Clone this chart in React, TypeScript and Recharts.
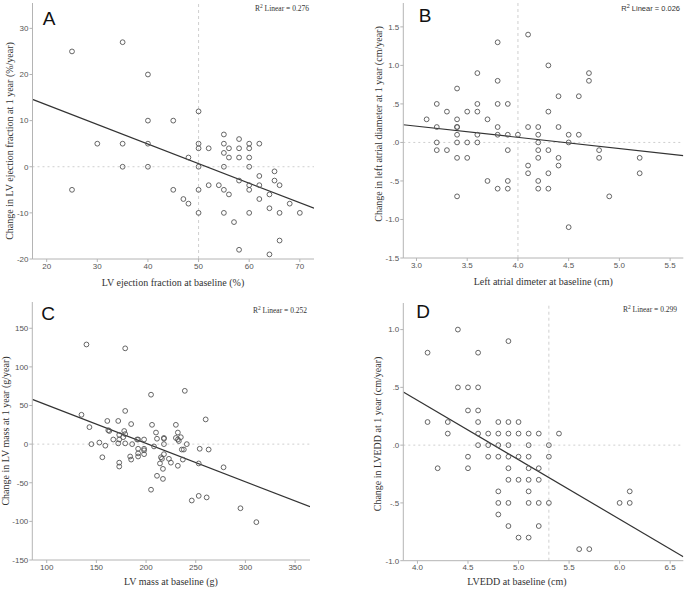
import React from "react";
import {
  ScatterChart,
  Scatter,
  XAxis,
  YAxis,
  ReferenceLine,
} from "recharts";

// A: LV ejection fraction
const efBaseline = [25, 25, 30, 35, 35, 35, 40, 40, 40, 40, 45, 45, 47, 48, 48, 50, 50, 50, 50, 50, 50, 52, 52, 54, 55, 55, 55, 55, 55, 55, 56, 56, 56, 57, 58, 58, 58, 58, 58, 60, 60, 60, 60, 60, 60, 60, 62, 62, 62, 62, 64, 64, 64, 65, 65, 66, 66, 66, 68, 70];
const efChange = [25, -5, 5, 27, 5, 0, 20, 10, 5, 0, 10, -5, -7, 2, -8, 12, 5, 4, 0, -5, -10, 4, -4, -4, 7, 5, 3, 0, -5, -10, 4, 2, -6, -12, 6, 4, 2, -3, -18, 5, 4, 2, 0, -4, -5, -10, 5, -2, -4, -7, -6, -9, -19, -1, -3, -4, -10, -16, -8, -10];
const efFit = [{ x: 17.2, y: 14.6 }, { x: 72.8, y: -9 }];
const efXTicks = [20, 30, 40, 50, 60, 70];
const efYTicks = [-20, -10, 0, 10, 20, 30];

// B: left atrial diameter
const laBaseline = [3.1, 3.2, 3.2, 3.2, 3.2, 3.3, 3.3, 3.4, 3.4, 3.4, 3.4, 3.4, 3.4, 3.4, 3.4, 3.5, 3.5, 3.5, 3.6, 3.6, 3.6, 3.6, 3.6, 3.7, 3.7, 3.8, 3.8, 3.8, 3.8, 3.8, 3.8, 3.9, 3.9, 3.9, 3.9, 3.9, 4.0, 4.1, 4.1, 4.1, 4.1, 4.2, 4.2, 4.2, 4.2, 4.2, 4.2, 4.2, 4.3, 4.3, 4.3, 4.3, 4.3, 4.4, 4.4, 4.4, 4.4, 4.5, 4.5, 4.5, 4.6, 4.6, 4.7, 4.7, 4.8, 4.8, 4.9, 5.2, 5.2];
const laChange = [0.3, 0.5, 0.2, 0.0, -0.1, 0.4, -0.1, 0.7, 0.3, 0.2, 0.1, 0.0, -0.2, -0.7, 0.2, 0.4, 0.0, -0.2, 0.9, 0.5, 0.4, 0.1, 0.0, 0.3, -0.5, 1.3, 0.8, 0.5, 0.2, 0.1, -0.6, 0.5, 0.1, -0.1, -0.5, -0.6, 0.1, 1.4, 0.2, -0.3, -0.4, 0.2, 0.1, 0.0, -0.1, -0.2, -0.5, -0.6, 1.0, 0.4, -0.1, -0.4, -0.6, 0.6, 0.2, -0.2, -0.3, 0.1, 0.0, -1.1, 0.6, 0.1, 0.9, 0.8, -0.1, -0.2, -0.7, -0.2, -0.4];
const laFit = [{ x: 2.87, y: 0.23 }, { x: 5.63, y: -0.17 }];
const laXTicks = [3.0, 3.5, 4.0, 4.5, 5.0, 5.5];
const laYTicks = [-1.5, -1.0, -0.5, 0, 0.5, 1.0, 1.5];

// C: LV mass
const massBaseline = [140, 179, 135, 143, 145, 153, 156, 159, 161, 162, 163, 167, 172, 173, 173, 172, 173, 173, 177, 178, 179, 179, 179, 185, 184, 185, 186, 191, 192, 192, 192, 192, 198, 198, 198, 198, 205, 205, 206, 208, 210, 211, 211, 214, 215, 216, 217, 217, 218, 218, 218, 218, 223, 225, 230, 230, 232, 232, 232, 233, 235, 236, 238, 239, 237, 241, 246, 253, 254, 253, 260, 261, 263, 278, 295, 311];
const massChange = [129, 124, 38, 22, 0, 2, -17, -2, 30, 18, 17, 6, 30, 12, 6, 1, -24, -29, 9, 17, 13, 43, 1, 26, -16, -20, 0, 6, 6, -6, -12, -16, 6, -6, -8, -13, 64, -59, 25, -3, 15, 7, -41, -25, -17, -19, -32, -45, 0, -13, 7, 8, -19, -24, 25, 8, 15, -28, 6, 4, 9, -7, -7, 69, -20, 0, -73, -25, -6, -67, 32, -69, -7, -30, -83, -101];
const massFit = [{ x: 85.5, y: 58 }, { x: 365, y: -81 }];
const massXTicks = [100, 150, 200, 250, 300, 350];
const massYTicks = [-150, -100, -50, 0, 50, 100, 150];

// D: LVEDD
const lveddBaseline = [4.1, 4.1, 4.2, 4.3, 4.3, 4.4, 4.4, 4.5, 4.5, 4.5, 4.5, 4.6, 4.6, 4.6, 4.6, 4.6, 4.6, 4.7, 4.7, 4.7, 4.8, 4.8, 4.8, 4.8, 4.8, 4.8, 4.8, 4.9, 4.9, 4.9, 4.9, 4.9, 4.9, 4.9, 4.9, 4.9, 5.0, 5.0, 5.0, 5.0, 5.0, 5.1, 5.1, 5.1, 5.1, 5.1, 5.1, 5.1, 5.1, 5.2, 5.2, 5.2, 5.2, 5.2, 5.3, 5.3, 5.3, 5.4, 5.6, 5.7, 6.0, 6.1, 6.1];
const lveddChange = [0.8, 0.2, -0.2, 0.2, 0.1, 1.0, 0.5, 0.5, 0.3, -0.1, -0.2, 0.8, 0.5, 0.3, 0.2, 0.1, 0.0, 0.1, 0.0, -0.1, 0.2, 0.1, 0.0, -0.1, -0.4, -0.5, -0.6, 0.9, 0.2, 0.1, 0.0, -0.1, -0.2, -0.3, -0.5, -0.7, 0.2, 0.1, -0.1, -0.3, -0.8, 0.1, 0.0, -0.1, -0.2, -0.3, -0.4, -0.5, -0.8, 0.1, -0.2, -0.3, -0.5, -0.7, 0.0, -0.1, -0.5, 0.1, -0.9, -0.9, -0.5, -0.4, -0.5];
const lveddFit = [{ x: 3.86, y: 0.46 }, { x: 6.63, y: -0.965 }];
const lveddXTicks = [4.0, 4.5, 5.0, 5.5, 6.0, 6.5];
const lveddYTicks = [-1.0, -0.5, 0, 0.5, 1.0];

const zip = (xs: number[], ys: number[]) => xs.map((x, i) => ({ x, y: ys[i] }));

// SPSS style: ".5", ".0", "-.5"
const spss1 = (v: number) => v.toFixed(1).replace(/^(-?)0\./, "$1.");
const int = (v: number) => String(v);

const SERIF = "'Liberation Serif', 'Times New Roman', serif";
const SANS = "'Liberation Sans', Arial, sans-serif";
const AXIS = "#b4b4b4";

const Ring = (props: any) => {
  const { cx, cy } = props;
  if (cx == null || cy == null) return <g />;
  return <circle cx={cx} cy={cy} r={2.4} fill="none" stroke="#555" strokeWidth={0.9} />;
};

interface PanelProps {
  left: number;
  top: number;
  width: number;
  height: number;
  margin: { top: number; right: number; bottom: number; left: number };
  yWidth: number;
  xHeight: number;
  xDomain: [number, number];
  yDomain: [number, number];
  xTicks: number[];
  yTicks: number[];
  xFmt: (v: number) => string;
  yFmt: (v: number) => string;
  points: { x: number; y: number }[];
  fit: { x: number; y: number }[];
  refX?: number;
  letter: string;
  letterPos: [number, number];
  r2: string;
  r2Pos: [number, number];
  r2Font: string;
  xLabel: string;
  xLabelPos: [number, number];
  yLabel: string;
  yLabelPos: [number, number];
}

function Panel(p: PanelProps) {
  const tick = { fontSize: 8, fill: "#555", fontFamily: SANS };
  return (
    <div style={{ position: "absolute", left: p.left, top: p.top, width: p.width, height: p.height }}>
      <ScatterChart width={p.width} height={p.height} margin={p.margin}>
        <XAxis
          type="number"
          dataKey="x"
          domain={p.xDomain}
          ticks={p.xTicks}
          tickFormatter={p.xFmt}
          allowDataOverflow
          height={p.xHeight}
          tick={tick}
          tickSize={3}
          tickMargin={1}
          stroke={AXIS}
        />
        <YAxis
          type="number"
          dataKey="y"
          domain={p.yDomain}
          ticks={p.yTicks}
          tickFormatter={p.yFmt}
          allowDataOverflow
          width={p.yWidth}
          tick={tick}
          tickSize={3}
          tickMargin={1}
          stroke={AXIS}
        />
        {p.refX !== undefined && (
          <ReferenceLine x={p.refX} stroke="#cfcfcf" strokeDasharray="3 3" />
        )}
        <ReferenceLine y={0} stroke="#cfcfcf" strokeDasharray="2 3" />
        <ReferenceLine
          segment={p.fit}
          stroke="#333"
          strokeWidth={1.2}
          ifOverflow="hidden"
        />
        <Scatter data={p.points} shape={Ring} isAnimationActive={false} />
      </ScatterChart>
      <svg
        width={p.width}
        height={p.height}
        style={{ position: "absolute", left: 0, top: 0, pointerEvents: "none" }}
      >
        <text x={p.letterPos[0]} y={p.letterPos[1]} fontFamily={SANS} fontSize={19} fill="#111" textAnchor="middle">
          {p.letter}
        </text>
        <text x={p.r2Pos[0]} y={p.r2Pos[1]} fontFamily={p.r2Font} fontSize={7.5} fill="#333" textAnchor="end">
          R<tspan dy={-3} fontSize={5.5}>2</tspan>
          <tspan dy={3}> Linear = {p.r2}</tspan>
        </text>
        <text x={p.xLabelPos[0]} y={p.xLabelPos[1]} fontFamily={SERIF} fontSize={10} fill="#333" textAnchor="middle">
          {p.xLabel}
        </text>
        <text
          transform={`translate(${p.yLabelPos[0]},${p.yLabelPos[1]}) rotate(-90)`}
          fontFamily={SERIF}
          fontSize={10}
          fill="#333"
          textAnchor="middle"
        >
          {p.yLabel}
        </text>
      </svg>
    </div>
  );
}

export default function App() {
  return (
    <div style={{ position: "absolute", left: 0, top: 0, width: 685, height: 589, background: "#fff" }}>
      <Panel
        left={0}
        top={0}
        width={340}
        height={295}
        margin={{ top: 3, right: 26, bottom: 0, left: 0 }}
        yWidth={32.5}
        xHeight={36}
        xDomain={[17.2, 72.8]}
        yDomain={[-20, 35.5]}
        xTicks={efXTicks}
        yTicks={efYTicks}
        xFmt={int}
        yFmt={int}
        points={zip(efBaseline, efChange)}
        fit={efFit}
        refX={50}
        letter="A"
        letterPos={[49, 25]}
        r2="0.276"
        r2Pos={[309, 11]}
        r2Font={SERIF}
        xLabel="LV ejection fraction at baseline (%)"
        xLabelPos={[173, 286]}
        yLabel="Change in LV ejection fraction at 1 year (%/year)"
        yLabelPos={[13, 141]}
      />
      <Panel
        left={340}
        top={0}
        width={345}
        height={295}
        margin={{ top: 3, right: 1.7, bottom: 0, left: 0 }}
        yWidth={63.3}
        xHeight={37}
        xDomain={[2.87, 5.63]}
        yDomain={[-1.5, 1.81]}
        xTicks={laXTicks}
        yTicks={laYTicks}
        xFmt={(v) => v.toFixed(1)}
        yFmt={spss1}
        points={zip(laBaseline, laChange)}
        fit={laFit}
        refX={4.0}
        letter="B"
        letterPos={[85, 22]}
        r2="0.026"
        r2Pos={[340, 11]}
        r2Font={SANS}
        xLabel="Left atrial dimeter at baseline (cm)"
        xLabelPos={[203.3, 285]}
        yLabel="Change in left atrial diameter at 1 year (cm/year)"
        yLabelPos={[42, 124]}
      />
      <Panel
        left={0}
        top={295}
        width={340}
        height={294}
        margin={{ top: 7, right: 30, bottom: 0, left: 0 }}
        yWidth={32.3}
        xHeight={29}
        xDomain={[85.5, 365]}
        yDomain={[-150, 184]}
        xTicks={massXTicks}
        yTicks={massYTicks}
        xFmt={int}
        yFmt={int}
        points={zip(massBaseline, massChange)}
        fit={massFit}
        letter="C"
        letterPos={[48, 25]}
        r2="0.252"
        r2Pos={[307, 18]}
        r2Font={SERIF}
        xLabel="LV mass at baseline (g)"
        xLabelPos={[171, 290]}
        yLabel="Change in LV mass at 1 year (g/year)"
        yLabelPos={[9, 136]}
      />
      <Panel
        left={340}
        top={295}
        width={345}
        height={294}
        margin={{ top: 8, right: 1.7, bottom: 0, left: 0 }}
        yWidth={63.3}
        xHeight={28.3}
        xDomain={[3.86, 6.63]}
        yDomain={[-1.0, 1.23]}
        xTicks={lveddXTicks}
        yTicks={lveddYTicks}
        xFmt={(v) => v.toFixed(1)}
        yFmt={spss1}
        points={zip(lveddBaseline, lveddChange)}
        fit={lveddFit}
        refX={5.3}
        letter="D"
        letterPos={[83, 23]}
        r2="0.299"
        r2Pos={[337, 17]}
        r2Font={SERIF}
        xLabel="LVEDD at baseline (cm)"
        xLabelPos={[177, 290]}
        yLabel="Change in LVEDD at 1 year (cm/year)"
        yLabelPos={[41, 139]}
      />
    </div>
  );
}
